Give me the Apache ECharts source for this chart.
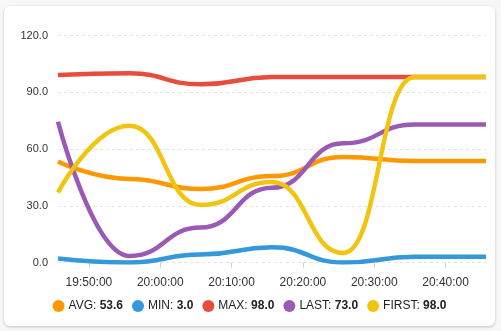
<!DOCTYPE html>
<html>
<head>
<meta charset="utf-8">
<script src="https://cdn.jsdelivr.net/npm/echarts@6/dist/echarts.min.js"></script>
<style>
  html, body { margin: 0; padding: 0; background: #f7f7f7; width: 501px; height: 331px; overflow: hidden; }
  .card {
    position: absolute; left: 4px; top: 6px; width: 491px; height: 320px;
    background: #fff; border-radius: 6px;
    box-shadow: 0 1px 3px rgba(0, 0, 0, 0.22);
  }
  #chart { width: 100%; height: 100%; }
</style>
</head>
<body>
<div class="card"><div id="chart"></div></div>
<script>
// 时间点（每 10 分钟一个统计值）
const times = ['19:45:40', '19:55:40', '20:05:40', '20:15:40', '20:25:40', '20:35:40', '20:45:40']
const avgData = [53.4, 44.2, 38.8, 45.7, 55.8, 53.6, 53.6]
const minData = [2.1, 0, 4.2, 8.0, 0, 3.0, 3.0]
const maxData = [99.1, 100.0, 94.2, 98.0, 98.0, 98.0, 98.0]
const lastData = [74.4, 3.5, 18.5, 39.5, 63.0, 73.0, 73.0]
const firstData = [37.0, 72.3, 30.4, 42.5, 5.0, 98.0, 98.0]

// x 轴刻度标签
const xTickLabels = ['19:50:00', '20:00:00', '20:10:00', '20:20:00', '20:30:00', '20:40:00']
const yTicks = [0, 30, 60, 90, 120]

const seriesNames = ['AVG', 'MIN', 'MAX', 'LAST', 'FIRST']
const seriesColors = ['#ff9800', '#3498db', '#e74c3c', '#9b59b6', '#f1c40f']
const legendValues = ['53.6', '3.0', '98.0', '73.0', '98.0']

/* 'HH:mm:ss' -> 秒 */
const toSec = s => {
  const [h, m, sec] = s.split(':').map(Number)
  return h * 3600 + m * 60 + sec
}
const pad = n => (n < 10 ? '0' : '') + n
const fmtSec = v => pad(Math.floor(v / 3600)) + ':' + pad(Math.floor(v / 60) % 60) + ':' + pad(Math.round(v) % 60)

const allData = [avgData, minData, maxData, lastData, firstData]
const xTickValues = xTickLabels.map(toSec)

const chart = echarts.init(document.getElementById('chart'))
chart.setOption({
  animation: false,
  textStyle: { fontFamily: 'Liberation Sans, Arial, sans-serif' },
  grid: { left: 54, right: 9, top: 29.5, bottom: 63.5 },
  xAxis: {
    type: 'value',
    min: toSec(times[0]),
    max: toSec(times[times.length - 1]),
    axisLine: { show: false },
    axisTick: { show: true, length: 5, lineStyle: { color: '#cfcfcf' }, customValues: xTickValues },
    splitLine: { show: false },
    axisLabel: {
      margin: 14,
      fontSize: 12,
      color: '#333',
      customValues: xTickValues,
      formatter: v => fmtSec(v)
    }
  },
  yAxis: {
    type: 'value',
    min: yTicks[0],
    max: yTicks[yTicks.length - 1],
    interval: 30,
    axisLine: { show: false },
    axisTick: { show: false },
    splitLine: { lineStyle: { color: '#e3e3e3', type: [3, 3], width: 1 } },
    axisLabel: { margin: 10, fontSize: 11, color: '#333', formatter: v => v.toFixed(1) }
  },
  legend: {
    top: 289,
    left: 'center',
    icon: 'circle',
    itemWidth: 12,
    itemHeight: 12,
    itemGap: 9,
    textStyle: {
      fontSize: 12,
      color: '#222',
      padding: [0, 0, 0, -1],
      rich: {
        n: { fontSize: 12, color: '#222' },
        v: { fontSize: 12, color: '#222', fontWeight: 'bold' }
      }
    },
    formatter: name => `{n|${name}: }{v|${legendValues[seriesNames.indexOf(name)]}}`,
    data: seriesNames
  },
  series: seriesNames.map((name, i) => ({
    name,
    type: 'line',
    color: seriesColors[i],
    smooth: 0.5,
    smoothMonotone: 'x',
    showSymbol: false,
    lineStyle: { width: 4.5, color: seriesColors[i] },
    data: times.map((t, k) => [toSec(t), allData[i][k]])
  }))
})
</script>
</body>
</html>
